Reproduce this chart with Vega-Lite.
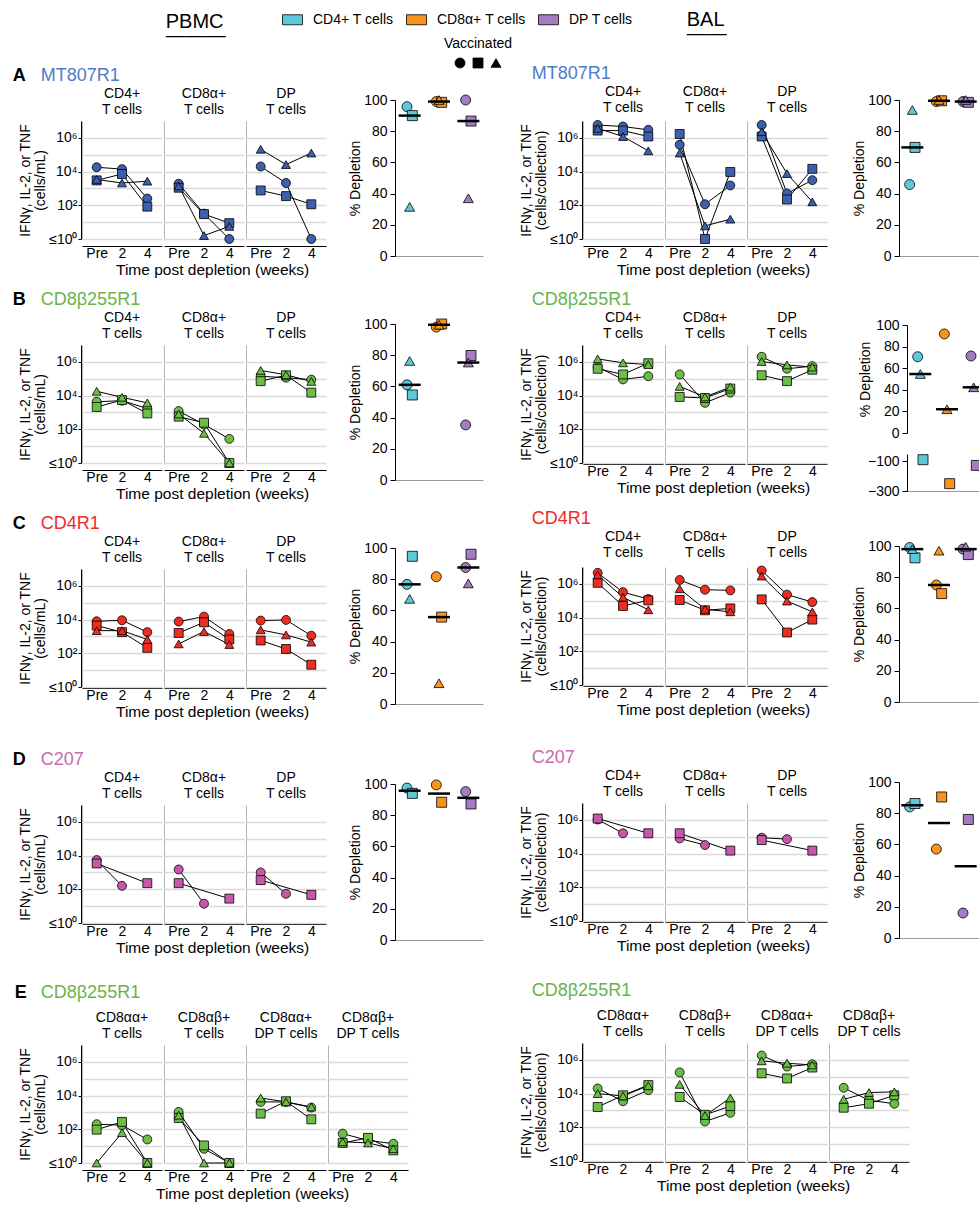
{
"$schema":"https://vega.github.io/schema/vega-lite/v6.json",
"padding":{"left":12,"top":9,"right":0,"bottom":0},
"background":"white",
"config":{
 "font":"Liberation Sans",
 "view":{"stroke":"#b5b5b5","strokeWidth":1,"strokeDash":[0,278,118,0]},
 "axis":{"labelFontSize":14,"titleFontSize":14,"titleFontWeight":"normal","labelColor":"black","titleColor":"black","domainColor":"black","tickColor":"black","grid":false,"gridColor":"#d9d9d9","gridWidth":1.5,"labelFont":"Liberation Sans","titleFont":"Liberation Sans","tickSize":3,"labelPadding":1,"titlePadding":1,"titleLineHeight":15},
 "axisX":{"ticks":false,"labelAngle":0,"labelPadding":0,"titlePadding":3},
 "header":{"labelFontSize":14,"labelExpr":"split(datum.label,'|')","labelPadding":3,"labelLineHeight":16,"labelColor":"black","labelFont":"Liberation Sans"},
 "title":{"fontSize":18,"fontWeight":"normal","anchor":"start","offset":5,"color":"black","font":"Liberation Sans"},
 "legend":{"labelFontSize":14,"titleFontSize":14,"titleFontWeight":"normal","labelColor":"black","titleColor":"black","labelFont":"Liberation Sans","titleFont":"Liberation Sans","symbolBaseFillColor":"black","symbolBaseStrokeColor":"black"},
 "scale":{"pointPadding":0.58},
 "range":{"category":["#5cc9d8","#f7931e","#a47cc2"],"symbol":["circle","square","triangle-up"]},
 "point":{"filled":true,"size":80,"stroke":"black","strokeWidth":0.8,"opacity":1},
 "line":{"color":"black","strokeWidth":1},
 "tick":{"color":"black","thickness":2.5,"opacity":1},
 "concat":{"spacing":7}
},
"datasets":{
"lines":[
{"row":"A","tis":"PBMC","cell":"CD4+|T cells","an":"1","time":"Pre","v":18000},
{"row":"A","tis":"PBMC","cell":"CD4+|T cells","an":"1","time":"2","v":14000},
{"row":"A","tis":"PBMC","cell":"CD4+|T cells","an":"1","time":"4","v":250},
{"row":"A","tis":"PBMC","cell":"CD4+|T cells","an":"2","time":"Pre","v":3000},
{"row":"A","tis":"PBMC","cell":"CD4+|T cells","an":"2","time":"2","v":7200},
{"row":"A","tis":"PBMC","cell":"CD4+|T cells","an":"2","time":"4","v":83},
{"row":"A","tis":"PBMC","cell":"CD4+|T cells","an":"3","time":"Pre","v":3400},
{"row":"A","tis":"PBMC","cell":"CD4+|T cells","an":"3","time":"2","v":2100},
{"row":"A","tis":"PBMC","cell":"CD4+|T cells","an":"3","time":"4","v":2700},
{"row":"A","tis":"PBMC","cell":"CD8α+|T cells","an":"1","time":"Pre","v":1900},
{"row":"A","tis":"PBMC","cell":"CD8α+|T cells","an":"1","time":"2","v":32},
{"row":"A","tis":"PBMC","cell":"CD8α+|T cells","an":"1","time":"4","v":1},
{"row":"A","tis":"PBMC","cell":"CD8α+|T cells","an":"2","time":"Pre","v":1100},
{"row":"A","tis":"PBMC","cell":"CD8α+|T cells","an":"2","time":"2","v":30},
{"row":"A","tis":"PBMC","cell":"CD8α+|T cells","an":"2","time":"4","v":8.7},
{"row":"A","tis":"PBMC","cell":"CD8α+|T cells","an":"3","time":"Pre","v":1400},
{"row":"A","tis":"PBMC","cell":"CD8α+|T cells","an":"3","time":"2","v":1.6},
{"row":"A","tis":"PBMC","cell":"CD8α+|T cells","an":"3","time":"4","v":5.6},
{"row":"A","tis":"PBMC","cell":"DP|T cells","an":"1","time":"Pre","v":20000},
{"row":"A","tis":"PBMC","cell":"DP|T cells","an":"1","time":"2","v":2100},
{"row":"A","tis":"PBMC","cell":"DP|T cells","an":"1","time":"4","v":1},
{"row":"A","tis":"PBMC","cell":"DP|T cells","an":"2","time":"Pre","v":760},
{"row":"A","tis":"PBMC","cell":"DP|T cells","an":"2","time":"2","v":350},
{"row":"A","tis":"PBMC","cell":"DP|T cells","an":"2","time":"4","v":115},
{"row":"A","tis":"PBMC","cell":"DP|T cells","an":"3","time":"Pre","v":210000},
{"row":"A","tis":"PBMC","cell":"DP|T cells","an":"3","time":"2","v":26000},
{"row":"A","tis":"PBMC","cell":"DP|T cells","an":"3","time":"4","v":126000},
{"row":"A","tis":"BAL","cell":"CD4+|T cells","an":"1","time":"Pre","v":5800000},
{"row":"A","tis":"BAL","cell":"CD4+|T cells","an":"1","time":"2","v":4700000},
{"row":"A","tis":"BAL","cell":"CD4+|T cells","an":"1","time":"4","v":3000000},
{"row":"A","tis":"BAL","cell":"CD4+|T cells","an":"2","time":"Pre","v":2700000},
{"row":"A","tis":"BAL","cell":"CD4+|T cells","an":"2","time":"2","v":2700000},
{"row":"A","tis":"BAL","cell":"CD4+|T cells","an":"2","time":"4","v":1200000},
{"row":"A","tis":"BAL","cell":"CD4+|T cells","an":"3","time":"Pre","v":3700000},
{"row":"A","tis":"BAL","cell":"CD4+|T cells","an":"3","time":"2","v":1200000},
{"row":"A","tis":"BAL","cell":"CD4+|T cells","an":"3","time":"4","v":170000},
{"row":"A","tis":"BAL","cell":"CD8α+|T cells","an":"1","time":"Pre","v":390000},
{"row":"A","tis":"BAL","cell":"CD8α+|T cells","an":"1","time":"2","v":115},
{"row":"A","tis":"BAL","cell":"CD8α+|T cells","an":"1","time":"4","v":1500},
{"row":"A","tis":"BAL","cell":"CD8α+|T cells","an":"2","time":"Pre","v":1700000},
{"row":"A","tis":"BAL","cell":"CD8α+|T cells","an":"2","time":"2","v":1},
{"row":"A","tis":"BAL","cell":"CD8α+|T cells","an":"2","time":"4","v":9500},
{"row":"A","tis":"BAL","cell":"CD8α+|T cells","an":"3","time":"Pre","v":126000},
{"row":"A","tis":"BAL","cell":"CD8α+|T cells","an":"3","time":"2","v":6},
{"row":"A","tis":"BAL","cell":"CD8α+|T cells","an":"3","time":"4","v":15},
{"row":"A","tis":"BAL","cell":"DP|T cells","an":"1","time":"Pre","v":5800000},
{"row":"A","tis":"BAL","cell":"DP|T cells","an":"1","time":"2","v":500},
{"row":"A","tis":"BAL","cell":"DP|T cells","an":"1","time":"4","v":3100},
{"row":"A","tis":"BAL","cell":"DP|T cells","an":"2","time":"Pre","v":1200000},
{"row":"A","tis":"BAL","cell":"DP|T cells","an":"2","time":"2","v":220},
{"row":"A","tis":"BAL","cell":"DP|T cells","an":"2","time":"4","v":14500},
{"row":"A","tis":"BAL","cell":"DP|T cells","an":"3","time":"Pre","v":2300000},
{"row":"A","tis":"BAL","cell":"DP|T cells","an":"3","time":"2","v":7600},
{"row":"A","tis":"BAL","cell":"DP|T cells","an":"3","time":"4","v":160},
{"row":"B","tis":"PBMC","cell":"CD4+|T cells","an":"1","time":"Pre","v":4300},
{"row":"B","tis":"PBMC","cell":"CD4+|T cells","an":"1","time":"2","v":5000},
{"row":"B","tis":"PBMC","cell":"CD4+|T cells","an":"1","time":"4","v":1700},
{"row":"B","tis":"PBMC","cell":"CD4+|T cells","an":"2","time":"Pre","v":2100},
{"row":"B","tis":"PBMC","cell":"CD4+|T cells","an":"2","time":"2","v":5400},
{"row":"B","tis":"PBMC","cell":"CD4+|T cells","an":"2","time":"4","v":870},
{"row":"B","tis":"PBMC","cell":"CD4+|T cells","an":"3","time":"Pre","v":18000},
{"row":"B","tis":"PBMC","cell":"CD4+|T cells","an":"3","time":"2","v":7900},
{"row":"B","tis":"PBMC","cell":"CD4+|T cells","an":"3","time":"4","v":3700},
{"row":"B","tis":"PBMC","cell":"CD8α+|T cells","an":"1","time":"Pre","v":1200},
{"row":"B","tis":"PBMC","cell":"CD8α+|T cells","an":"1","time":"2","v":195},
{"row":"B","tis":"PBMC","cell":"CD8α+|T cells","an":"1","time":"4","v":27},
{"row":"B","tis":"PBMC","cell":"CD8α+|T cells","an":"2","time":"Pre","v":560},
{"row":"B","tis":"PBMC","cell":"CD8α+|T cells","an":"2","time":"2","v":245},
{"row":"B","tis":"PBMC","cell":"CD8α+|T cells","an":"2","time":"4","v":1},
{"row":"B","tis":"PBMC","cell":"CD8α+|T cells","an":"3","time":"Pre","v":800},
{"row":"B","tis":"PBMC","cell":"CD8α+|T cells","an":"3","time":"2","v":58},
{"row":"B","tis":"PBMC","cell":"CD8α+|T cells","an":"3","time":"4","v":1},
{"row":"B","tis":"PBMC","cell":"DP|T cells","an":"1","time":"Pre","v":140000},
{"row":"B","tis":"PBMC","cell":"DP|T cells","an":"1","time":"2","v":115000},
{"row":"B","tis":"PBMC","cell":"DP|T cells","an":"1","time":"4","v":87000},
{"row":"B","tis":"PBMC","cell":"DP|T cells","an":"2","time":"Pre","v":72000},
{"row":"B","tis":"PBMC","cell":"DP|T cells","an":"2","time":"2","v":160000},
{"row":"B","tis":"PBMC","cell":"DP|T cells","an":"2","time":"4","v":15000},
{"row":"B","tis":"PBMC","cell":"DP|T cells","an":"3","time":"Pre","v":310000},
{"row":"B","tis":"PBMC","cell":"DP|T cells","an":"3","time":"2","v":170000},
{"row":"B","tis":"PBMC","cell":"DP|T cells","an":"3","time":"4","v":69000},
{"row":"B","tis":"BAL","cell":"CD4+|T cells","an":"1","time":"Pre","v":490000},
{"row":"B","tis":"BAL","cell":"CD4+|T cells","an":"1","time":"2","v":91000},
{"row":"B","tis":"BAL","cell":"CD4+|T cells","an":"1","time":"4","v":140000},
{"row":"B","tis":"BAL","cell":"CD4+|T cells","an":"2","time":"Pre","v":390000},
{"row":"B","tis":"BAL","cell":"CD4+|T cells","an":"2","time":"2","v":180000},
{"row":"B","tis":"BAL","cell":"CD4+|T cells","an":"2","time":"4","v":830000},
{"row":"B","tis":"BAL","cell":"CD4+|T cells","an":"3","time":"Pre","v":1500000},
{"row":"B","tis":"BAL","cell":"CD4+|T cells","an":"3","time":"2","v":870000},
{"row":"B","tis":"BAL","cell":"CD4+|T cells","an":"3","time":"4","v":690000},
{"row":"B","tis":"BAL","cell":"CD8α+|T cells","an":"1","time":"Pre","v":180000},
{"row":"B","tis":"BAL","cell":"CD8α+|T cells","an":"1","time":"2","v":3700},
{"row":"B","tis":"BAL","cell":"CD8α+|T cells","an":"1","time":"4","v":15000},
{"row":"B","tis":"BAL","cell":"CD8α+|T cells","an":"2","time":"Pre","v":8300},
{"row":"B","tis":"BAL","cell":"CD8α+|T cells","an":"2","time":"2","v":7200},
{"row":"B","tis":"BAL","cell":"CD8α+|T cells","an":"2","time":"4","v":26000},
{"row":"B","tis":"BAL","cell":"CD8α+|T cells","an":"3","time":"Pre","v":35000},
{"row":"B","tis":"BAL","cell":"CD8α+|T cells","an":"3","time":"2","v":8300},
{"row":"B","tis":"BAL","cell":"CD8α+|T cells","an":"3","time":"4","v":32000},
{"row":"B","tis":"BAL","cell":"DP|T cells","an":"1","time":"Pre","v":2000000},
{"row":"B","tis":"BAL","cell":"DP|T cells","an":"1","time":"2","v":390000},
{"row":"B","tis":"BAL","cell":"DP|T cells","an":"1","time":"4","v":560000},
{"row":"B","tis":"BAL","cell":"DP|T cells","an":"2","time":"Pre","v":160000},
{"row":"B","tis":"BAL","cell":"DP|T cells","an":"2","time":"2","v":72000},
{"row":"B","tis":"BAL","cell":"DP|T cells","an":"2","time":"4","v":340000},
{"row":"B","tis":"BAL","cell":"DP|T cells","an":"3","time":"Pre","v":1050000},
{"row":"B","tis":"BAL","cell":"DP|T cells","an":"3","time":"2","v":660000},
{"row":"B","tis":"BAL","cell":"DP|T cells","an":"3","time":"4","v":490000},
{"row":"C","tis":"PBMC","cell":"CD4+|T cells","an":"1","time":"Pre","v":7900},
{"row":"C","tis":"PBMC","cell":"CD4+|T cells","an":"1","time":"2","v":9100},
{"row":"C","tis":"PBMC","cell":"CD4+|T cells","an":"1","time":"4","v":1800},
{"row":"C","tis":"PBMC","cell":"CD4+|T cells","an":"2","time":"Pre","v":4400},
{"row":"C","tis":"PBMC","cell":"CD4+|T cells","an":"2","time":"2","v":1800},
{"row":"C","tis":"PBMC","cell":"CD4+|T cells","an":"2","time":"4","v":210},
{"row":"C","tis":"PBMC","cell":"CD4+|T cells","an":"3","time":"Pre","v":2200},
{"row":"C","tis":"PBMC","cell":"CD4+|T cells","an":"3","time":"2","v":2200},
{"row":"C","tis":"PBMC","cell":"CD4+|T cells","an":"3","time":"4","v":660},
{"row":"C","tis":"PBMC","cell":"CD8α+|T cells","an":"1","time":"Pre","v":7600},
{"row":"C","tis":"PBMC","cell":"CD8α+|T cells","an":"1","time":"2","v":15000},
{"row":"C","tis":"PBMC","cell":"CD8α+|T cells","an":"1","time":"4","v":1400},
{"row":"C","tis":"PBMC","cell":"CD8α+|T cells","an":"2","time":"Pre","v":1600},
{"row":"C","tis":"PBMC","cell":"CD8α+|T cells","an":"2","time":"2","v":6900},
{"row":"C","tis":"PBMC","cell":"CD8α+|T cells","an":"2","time":"4","v":660},
{"row":"C","tis":"PBMC","cell":"CD8α+|T cells","an":"3","time":"Pre","v":360},
{"row":"C","tis":"PBMC","cell":"CD8α+|T cells","an":"3","time":"2","v":1950},
{"row":"C","tis":"PBMC","cell":"CD8α+|T cells","an":"3","time":"4","v":330},
{"row":"C","tis":"PBMC","cell":"DP|T cells","an":"1","time":"Pre","v":8700},
{"row":"C","tis":"PBMC","cell":"DP|T cells","an":"1","time":"2","v":9500},
{"row":"C","tis":"PBMC","cell":"DP|T cells","an":"1","time":"4","v":1100},
{"row":"C","tis":"PBMC","cell":"DP|T cells","an":"2","time":"Pre","v":575},
{"row":"C","tis":"PBMC","cell":"DP|T cells","an":"2","time":"2","v":180},
{"row":"C","tis":"PBMC","cell":"DP|T cells","an":"2","time":"4","v":21},
{"row":"C","tis":"PBMC","cell":"DP|T cells","an":"3","time":"Pre","v":2450},
{"row":"C","tis":"PBMC","cell":"DP|T cells","an":"3","time":"2","v":1230},
{"row":"C","tis":"PBMC","cell":"DP|T cells","an":"3","time":"4","v":460},
{"row":"C","tis":"BAL","cell":"CD4+|T cells","an":"1","time":"Pre","v":4500000},
{"row":"C","tis":"BAL","cell":"CD4+|T cells","an":"1","time":"2","v":320000},
{"row":"C","tis":"BAL","cell":"CD4+|T cells","an":"1","time":"4","v":126000},
{"row":"C","tis":"BAL","cell":"CD4+|T cells","an":"2","time":"Pre","v":1150000},
{"row":"C","tis":"BAL","cell":"CD4+|T cells","an":"2","time":"2","v":49000},
{"row":"C","tis":"BAL","cell":"CD4+|T cells","an":"2","time":"4","v":105000},
{"row":"C","tis":"BAL","cell":"CD4+|T cells","an":"3","time":"Pre","v":3400000},
{"row":"C","tis":"BAL","cell":"CD4+|T cells","an":"3","time":"2","v":160000},
{"row":"C","tis":"BAL","cell":"CD4+|T cells","an":"3","time":"4","v":29000},
{"row":"C","tis":"BAL","cell":"CD8α+|T cells","an":"1","time":"Pre","v":1700000},
{"row":"C","tis":"BAL","cell":"CD8α+|T cells","an":"1","time":"2","v":450000},
{"row":"C","tis":"BAL","cell":"CD8α+|T cells","an":"1","time":"4","v":410000},
{"row":"C","tis":"BAL","cell":"CD8α+|T cells","an":"2","time":"Pre","v":110000},
{"row":"C","tis":"BAL","cell":"CD8α+|T cells","an":"2","time":"2","v":27000},
{"row":"C","tis":"BAL","cell":"CD8α+|T cells","an":"2","time":"4","v":35000},
{"row":"C","tis":"BAL","cell":"CD8α+|T cells","an":"3","time":"Pre","v":510000},
{"row":"C","tis":"BAL","cell":"CD8α+|T cells","an":"3","time":"2","v":31000},
{"row":"C","tis":"BAL","cell":"CD8α+|T cells","an":"3","time":"4","v":22000},
{"row":"C","tis":"BAL","cell":"DP|T cells","an":"1","time":"Pre","v":6200000},
{"row":"C","tis":"BAL","cell":"DP|T cells","an":"1","time":"2","v":230000},
{"row":"C","tis":"BAL","cell":"DP|T cells","an":"1","time":"4","v":83000},
{"row":"C","tis":"BAL","cell":"DP|T cells","an":"2","time":"Pre","v":120000},
{"row":"C","tis":"BAL","cell":"DP|T cells","an":"2","time":"2","v":1300},
{"row":"C","tis":"BAL","cell":"DP|T cells","an":"2","time":"4","v":7600},
{"row":"C","tis":"BAL","cell":"DP|T cells","an":"3","time":"Pre","v":2900000},
{"row":"C","tis":"BAL","cell":"DP|T cells","an":"3","time":"2","v":95000},
{"row":"C","tis":"BAL","cell":"DP|T cells","an":"3","time":"4","v":22000},
{"row":"D","tis":"PBMC","cell":"CD4+|T cells","an":"1","time":"Pre","v":5400},
{"row":"D","tis":"PBMC","cell":"CD4+|T cells","an":"1","time":"2","v":160},
{"row":"D","tis":"PBMC","cell":"CD4+|T cells","an":"2","time":"Pre","v":3400},
{"row":"D","tis":"PBMC","cell":"CD4+|T cells","an":"2","time":"4","v":230},
{"row":"D","tis":"PBMC","cell":"CD8α+|T cells","an":"1","time":"Pre","v":1500},
{"row":"D","tis":"PBMC","cell":"CD8α+|T cells","an":"1","time":"2","v":14},
{"row":"D","tis":"PBMC","cell":"CD8α+|T cells","an":"2","time":"Pre","v":230},
{"row":"D","tis":"PBMC","cell":"CD8α+|T cells","an":"2","time":"4","v":28},
{"row":"D","tis":"PBMC","cell":"DP|T cells","an":"1","time":"Pre","v":1000},
{"row":"D","tis":"PBMC","cell":"DP|T cells","an":"1","time":"2","v":54},
{"row":"D","tis":"PBMC","cell":"DP|T cells","an":"2","time":"Pre","v":350},
{"row":"D","tis":"PBMC","cell":"DP|T cells","an":"2","time":"4","v":47},
{"row":"D","tis":"BAL","cell":"CD4+|T cells","an":"1","time":"Pre","v":1050000},
{"row":"D","tis":"BAL","cell":"CD4+|T cells","an":"1","time":"2","v":160000},
{"row":"D","tis":"BAL","cell":"CD4+|T cells","an":"2","time":"Pre","v":1200000},
{"row":"D","tis":"BAL","cell":"CD4+|T cells","an":"2","time":"4","v":160000},
{"row":"D","tis":"BAL","cell":"CD8α+|T cells","an":"1","time":"Pre","v":79000},
{"row":"D","tis":"BAL","cell":"CD8α+|T cells","an":"1","time":"2","v":32000},
{"row":"D","tis":"BAL","cell":"CD8α+|T cells","an":"2","time":"Pre","v":160000},
{"row":"D","tis":"BAL","cell":"CD8α+|T cells","an":"2","time":"4","v":15000},
{"row":"D","tis":"BAL","cell":"DP|T cells","an":"1","time":"Pre","v":87000},
{"row":"D","tis":"BAL","cell":"DP|T cells","an":"1","time":"2","v":72000},
{"row":"D","tis":"BAL","cell":"DP|T cells","an":"2","time":"Pre","v":63000},
{"row":"D","tis":"BAL","cell":"DP|T cells","an":"2","time":"4","v":15000},
{"row":"E","tis":"PBMC","cell":"CD8αα+|T cells","an":"1","time":"Pre","v":200},
{"row":"E","tis":"PBMC","cell":"CD8αα+|T cells","an":"1","time":"2","v":175},
{"row":"E","tis":"PBMC","cell":"CD8αα+|T cells","an":"1","time":"4","v":25},
{"row":"E","tis":"PBMC","cell":"CD8αα+|T cells","an":"2","time":"Pre","v":95},
{"row":"E","tis":"PBMC","cell":"CD8αα+|T cells","an":"2","time":"2","v":275},
{"row":"E","tis":"PBMC","cell":"CD8αα+|T cells","an":"2","time":"4","v":1},
{"row":"E","tis":"PBMC","cell":"CD8αα+|T cells","an":"3","time":"Pre","v":1},
{"row":"E","tis":"PBMC","cell":"CD8αα+|T cells","an":"3","time":"2","v":63},
{"row":"E","tis":"PBMC","cell":"CD8αα+|T cells","an":"3","time":"4","v":1},
{"row":"E","tis":"PBMC","cell":"CD8αβ+|T cells","an":"1","time":"Pre","v":1070},
{"row":"E","tis":"PBMC","cell":"CD8αβ+|T cells","an":"1","time":"2","v":7},
{"row":"E","tis":"PBMC","cell":"CD8αβ+|T cells","an":"1","time":"4","v":1},
{"row":"E","tis":"PBMC","cell":"CD8αβ+|T cells","an":"2","time":"Pre","v":470},
{"row":"E","tis":"PBMC","cell":"CD8αβ+|T cells","an":"2","time":"2","v":11},
{"row":"E","tis":"PBMC","cell":"CD8αβ+|T cells","an":"2","time":"4","v":1},
{"row":"E","tis":"PBMC","cell":"CD8αβ+|T cells","an":"3","time":"Pre","v":680},
{"row":"E","tis":"PBMC","cell":"CD8αβ+|T cells","an":"3","time":"2","v":1},
{"row":"E","tis":"PBMC","cell":"CD8αβ+|T cells","an":"3","time":"4","v":1},
{"row":"E","tis":"PBMC","cell":"CD8αα+|DP T cells","an":"1","time":"Pre","v":4200},
{"row":"E","tis":"PBMC","cell":"CD8αα+|DP T cells","an":"1","time":"2","v":4200},
{"row":"E","tis":"PBMC","cell":"CD8αα+|DP T cells","an":"1","time":"4","v":1950},
{"row":"E","tis":"PBMC","cell":"CD8αα+|DP T cells","an":"2","time":"Pre","v":850},
{"row":"E","tis":"PBMC","cell":"CD8αα+|DP T cells","an":"2","time":"2","v":4600},
{"row":"E","tis":"PBMC","cell":"CD8αα+|DP T cells","an":"2","time":"4","v":390},
{"row":"E","tis":"PBMC","cell":"CD8αα+|DP T cells","an":"3","time":"Pre","v":7200},
{"row":"E","tis":"PBMC","cell":"CD8αα+|DP T cells","an":"3","time":"2","v":4200},
{"row":"E","tis":"PBMC","cell":"CD8αα+|DP T cells","an":"3","time":"4","v":2100},
{"row":"E","tis":"PBMC","cell":"CD8αβ+|DP T cells","an":"1","time":"Pre","v":55},
{"row":"E","tis":"PBMC","cell":"CD8αβ+|DP T cells","an":"1","time":"2","v":22},
{"row":"E","tis":"PBMC","cell":"CD8αβ+|DP T cells","an":"1","time":"4","v":14},
{"row":"E","tis":"PBMC","cell":"CD8αβ+|DP T cells","an":"2","time":"Pre","v":15.5},
{"row":"E","tis":"PBMC","cell":"CD8αβ+|DP T cells","an":"2","time":"2","v":31},
{"row":"E","tis":"PBMC","cell":"CD8αβ+|DP T cells","an":"2","time":"4","v":5.6},
{"row":"E","tis":"PBMC","cell":"CD8αβ+|DP T cells","an":"3","time":"Pre","v":18},
{"row":"E","tis":"PBMC","cell":"CD8αβ+|DP T cells","an":"3","time":"2","v":15.5},
{"row":"E","tis":"PBMC","cell":"CD8αβ+|DP T cells","an":"3","time":"4","v":7},
{"row":"E","tis":"BAL","cell":"CD8αα+|T cells","an":"1","time":"Pre","v":20000},
{"row":"E","tis":"BAL","cell":"CD8αα+|T cells","an":"1","time":"2","v":3500},
{"row":"E","tis":"BAL","cell":"CD8αα+|T cells","an":"1","time":"4","v":16000},
{"row":"E","tis":"BAL","cell":"CD8αα+|T cells","an":"2","time":"Pre","v":1600},
{"row":"E","tis":"BAL","cell":"CD8αα+|T cells","an":"2","time":"2","v":7900},
{"row":"E","tis":"BAL","cell":"CD8αα+|T cells","an":"2","time":"4","v":32000},
{"row":"E","tis":"BAL","cell":"CD8αα+|T cells","an":"3","time":"Pre","v":10000},
{"row":"E","tis":"BAL","cell":"CD8αα+|T cells","an":"3","time":"2","v":7200},
{"row":"E","tis":"BAL","cell":"CD8αα+|T cells","an":"3","time":"4","v":29000},
{"row":"E","tis":"BAL","cell":"CD8αβ+|T cells","an":"1","time":"Pre","v":180000},
{"row":"E","tis":"BAL","cell":"CD8αβ+|T cells","an":"1","time":"2","v":220},
{"row":"E","tis":"BAL","cell":"CD8αβ+|T cells","an":"1","time":"4","v":720},
{"row":"E","tis":"BAL","cell":"CD8αβ+|T cells","an":"2","time":"Pre","v":6300},
{"row":"E","tis":"BAL","cell":"CD8αβ+|T cells","an":"2","time":"2","v":550},
{"row":"E","tis":"BAL","cell":"CD8αβ+|T cells","an":"2","time":"4","v":1800},
{"row":"E","tis":"BAL","cell":"CD8αβ+|T cells","an":"3","time":"Pre","v":35000},
{"row":"E","tis":"BAL","cell":"CD8αβ+|T cells","an":"3","time":"2","v":500},
{"row":"E","tis":"BAL","cell":"CD8αβ+|T cells","an":"3","time":"4","v":5500},
{"row":"E","tis":"BAL","cell":"CD8αα+|DP T cells","an":"1","time":"Pre","v":1800000},
{"row":"E","tis":"BAL","cell":"CD8αα+|DP T cells","an":"1","time":"2","v":400000},
{"row":"E","tis":"BAL","cell":"CD8αα+|DP T cells","an":"1","time":"4","v":550000},
{"row":"E","tis":"BAL","cell":"CD8αα+|DP T cells","an":"2","time":"Pre","v":160000},
{"row":"E","tis":"BAL","cell":"CD8αα+|DP T cells","an":"2","time":"2","v":79000},
{"row":"E","tis":"BAL","cell":"CD8αα+|DP T cells","an":"2","time":"4","v":350000},
{"row":"E","tis":"BAL","cell":"CD8αα+|DP T cells","an":"3","time":"Pre","v":870000},
{"row":"E","tis":"BAL","cell":"CD8αα+|DP T cells","an":"3","time":"2","v":630000},
{"row":"E","tis":"BAL","cell":"CD8αα+|DP T cells","an":"3","time":"4","v":500000},
{"row":"E","tis":"BAL","cell":"CD8αβ+|DP T cells","an":"1","time":"Pre","v":22000},
{"row":"E","tis":"BAL","cell":"CD8αβ+|DP T cells","an":"1","time":"2","v":4000},
{"row":"E","tis":"BAL","cell":"CD8αβ+|DP T cells","an":"1","time":"4","v":2500},
{"row":"E","tis":"BAL","cell":"CD8αβ+|DP T cells","an":"2","time":"Pre","v":1450},
{"row":"E","tis":"BAL","cell":"CD8αβ+|DP T cells","an":"2","time":"2","v":2500},
{"row":"E","tis":"BAL","cell":"CD8αβ+|DP T cells","an":"2","time":"4","v":7900},
{"row":"E","tis":"BAL","cell":"CD8αβ+|DP T cells","an":"3","time":"Pre","v":4600},
{"row":"E","tis":"BAL","cell":"CD8αβ+|DP T cells","an":"3","time":"2","v":11500},
{"row":"E","tis":"BAL","cell":"CD8αβ+|DP T cells","an":"3","time":"4","v":12600}
],
"dep":[
{"row":"A","tis":"PBMC","cell":"CD4+ T cells","an":"1","v":95.7},
{"row":"A","tis":"PBMC","cell":"CD4+ T cells","an":"2","v":90},
{"row":"A","tis":"PBMC","cell":"CD4+ T cells","an":"3","v":31.5},
{"row":"A","tis":"PBMC","cell":"CD8α+ T cells","an":"1","v":99},
{"row":"A","tis":"PBMC","cell":"CD8α+ T cells","an":"2","v":98.5},
{"row":"A","tis":"PBMC","cell":"CD8α+ T cells","an":"3","v":100},
{"row":"A","tis":"PBMC","cell":"DP T cells","an":"1","v":100},
{"row":"A","tis":"PBMC","cell":"DP T cells","an":"2","v":86.5},
{"row":"A","tis":"PBMC","cell":"DP T cells","an":"3","v":37},
{"row":"A","tis":"BAL","cell":"CD4+ T cells","an":"1","v":45.8},
{"row":"A","tis":"BAL","cell":"CD4+ T cells","an":"2","v":69.6},
{"row":"A","tis":"BAL","cell":"CD4+ T cells","an":"3","v":93.6},
{"row":"A","tis":"BAL","cell":"CD8α+ T cells","an":"1","v":99},
{"row":"A","tis":"BAL","cell":"CD8α+ T cells","an":"2","v":99.5},
{"row":"A","tis":"BAL","cell":"CD8α+ T cells","an":"3","v":100},
{"row":"A","tis":"BAL","cell":"DP T cells","an":"1","v":99},
{"row":"A","tis":"BAL","cell":"DP T cells","an":"2","v":98.5},
{"row":"A","tis":"BAL","cell":"DP T cells","an":"3","v":100},
{"row":"B","tis":"PBMC","cell":"CD4+ T cells","an":"1","v":61},
{"row":"B","tis":"PBMC","cell":"CD4+ T cells","an":"2","v":54.5},
{"row":"B","tis":"PBMC","cell":"CD4+ T cells","an":"3","v":76.3},
{"row":"B","tis":"PBMC","cell":"CD8α+ T cells","an":"1","v":98},
{"row":"B","tis":"PBMC","cell":"CD8α+ T cells","an":"2","v":100},
{"row":"B","tis":"PBMC","cell":"CD8α+ T cells","an":"3","v":99.5},
{"row":"B","tis":"PBMC","cell":"DP T cells","an":"1","v":35.3},
{"row":"B","tis":"PBMC","cell":"DP T cells","an":"2","v":79.8},
{"row":"B","tis":"PBMC","cell":"DP T cells","an":"3","v":75.3},
{"row":"B","tis":"BAL","cell":"CD4+ T cells","an":"1","v":70.6},
{"row":"B","tis":"BAL","cell":"CD4+ T cells","an":"2","v":-91},
{"row":"B","tis":"BAL","cell":"CD4+ T cells","an":"3","v":54.6},
{"row":"B","tis":"BAL","cell":"CD8α+ T cells","an":"1","v":91.7},
{"row":"B","tis":"BAL","cell":"CD8α+ T cells","an":"2","v":-251},
{"row":"B","tis":"BAL","cell":"CD8α+ T cells","an":"3","v":22},
{"row":"B","tis":"BAL","cell":"DP T cells","an":"1","v":71.3},
{"row":"B","tis":"BAL","cell":"DP T cells","an":"2","v":-129},
{"row":"B","tis":"BAL","cell":"DP T cells","an":"3","v":42.3},
{"row":"C","tis":"PBMC","cell":"CD4+ T cells","an":"1","v":76.7},
{"row":"C","tis":"PBMC","cell":"CD4+ T cells","an":"2","v":94.7},
{"row":"C","tis":"PBMC","cell":"CD4+ T cells","an":"3","v":67.4},
{"row":"C","tis":"PBMC","cell":"CD8α+ T cells","an":"1","v":81.6},
{"row":"C","tis":"PBMC","cell":"CD8α+ T cells","an":"2","v":55.7},
{"row":"C","tis":"PBMC","cell":"CD8α+ T cells","an":"3","v":13.3},
{"row":"C","tis":"PBMC","cell":"DP T cells","an":"1","v":87.5},
{"row":"C","tis":"PBMC","cell":"DP T cells","an":"2","v":96},
{"row":"C","tis":"PBMC","cell":"DP T cells","an":"3","v":77.3},
{"row":"C","tis":"BAL","cell":"CD4+ T cells","an":"1","v":99},
{"row":"C","tis":"BAL","cell":"CD4+ T cells","an":"2","v":92.4},
{"row":"C","tis":"BAL","cell":"CD4+ T cells","an":"3","v":98},
{"row":"C","tis":"BAL","cell":"CD8α+ T cells","an":"1","v":75},
{"row":"C","tis":"BAL","cell":"CD8α+ T cells","an":"2","v":69.5},
{"row":"C","tis":"BAL","cell":"CD8α+ T cells","an":"3","v":97},
{"row":"C","tis":"BAL","cell":"DP T cells","an":"1","v":98},
{"row":"C","tis":"BAL","cell":"DP T cells","an":"2","v":94.5},
{"row":"C","tis":"BAL","cell":"DP T cells","an":"3","v":99.5},
{"row":"D","tis":"PBMC","cell":"CD4+ T cells","an":"1","v":97.4},
{"row":"D","tis":"PBMC","cell":"CD4+ T cells","an":"2","v":94},
{"row":"D","tis":"PBMC","cell":"CD8α+ T cells","an":"1","v":99.4},
{"row":"D","tis":"PBMC","cell":"CD8α+ T cells","an":"2","v":88.3},
{"row":"D","tis":"PBMC","cell":"DP T cells","an":"1","v":95.1},
{"row":"D","tis":"PBMC","cell":"DP T cells","an":"2","v":87.2},
{"row":"D","tis":"BAL","cell":"CD4+ T cells","an":"1","v":84},
{"row":"D","tis":"BAL","cell":"CD4+ T cells","an":"2","v":86.2},
{"row":"D","tis":"BAL","cell":"CD8α+ T cells","an":"1","v":57},
{"row":"D","tis":"BAL","cell":"CD8α+ T cells","an":"2","v":90.4},
{"row":"D","tis":"BAL","cell":"DP T cells","an":"1","v":16},
{"row":"D","tis":"BAL","cell":"DP T cells","an":"2","v":76}
]
},
"spacing":36,
"hconcat":[
{"title":{"text":"PBMC","subtitle":"———","fontSize":20,"subtitleFontSize":20,"subtitleFont":"Liberation Sans","subtitleColor":"black","subtitlePadding":-6,"anchor":"start","dx":153,"offset":21},
 "spacing":26,
 "vconcat":[
 {"spacing":12,"vconcat":[
 {"title":{"text":"A","orient":"left","anchor":"end","angle":0,"align":"right","baseline":"top","fontWeight":"bold","fontSize":18,"offset":-20},
  "hconcat":[{"title":{"text":"MT807R1","color":"#4d7ccb","dx":22,"offset":2},"columns":2,"align":"none","spacing":21,"concat":[
   {"data":{"name":"lines"},"transform":[{"filter":"datum.row=='A'&&datum.tis=='PBMC'"}],
    "title":{"text":"Time post depletion (weeks)","orient":"bottom","anchor":"start","frame":"group","dx":34,"fontSize":15.5,"offset":3},
    "facet":{"column":{"field":"cell","type":"nominal","sort":["CD4+|T cells","CD8α+|T cells","DP|T cells"],"title":null}},
    "spacing":0,
    "spec":{"width":80,"height":118,
     "encoding":{"x":{"field":"time","type":"ordinal","sort":["Pre","2","4"],"axis":{"title":null}},
      "y":{"field":"v","type":"quantitative","scale":{"type":"log","domain":[1,10000000]},"axis":{"title":["IFNγ, IL-2, or TNF","(cells/mL)"],"values":[1,10,100,1000,10000,100000,1000000],"labelExpr":"datum.value==1?'≤10⁰':datum.value==100?'10²':datum.value==10000?'10⁴':datum.value==1000000?'10⁶':''","grid":true,"tickOpacity":{"condition":{"test":"datum.value==10||datum.value==1000||datum.value==100000","value":0},"value":1}}}},
     "layer":[{"mark":"line","encoding":{"detail":{"field":"an"},"order":{"value":null}}},
      {"mark":{"type":"point"},"encoding":{"color":{"field":"row","type":"nominal","scale":{"domain":["A","B","C","D","E"],"range":["#3d5fae","#6cbd45","#ec2d24","#c658a8","#6cbd45"]},"legend":null},"shape":{"field":"an","type":"nominal","legend":{"orient":"none","legendX":362,"legendY":-84,"title":"Vaccinated","direction":"horizontal","labelExpr":"''","symbolFillColor":"black","symbolStrokeColor":"black","symbolSize":100,"labelOffset":0,"columnPadding":4,"titleAnchor":"middle"}}}}]}},
   {"data":{"name":"dep"},"transform":[{"filter":"datum.row=='A'&&datum.tis=='PBMC'"}],
    "width":88,"height":135,"view":{"stroke":null},
    "encoding":{"x":{"field":"cell","type":"nominal","scale":{"type":"point","padding":0.5},"axis":{"labels":false,"ticks":false,"title":null,"domainColor":"#9a9a9a"}},
     "y":{"field":"v","type":"quantitative","scale":{"domain":[0,100],"range":[135,-21]},"axis":{"values":[0,20,40,60,80,100],"title":"% Depletion","tickSize":5,"labelPadding":3}}},
    "layer":[{"mark":{"type":"point","size":100},"encoding":{"fill":{"field":"cell","type":"nominal","legend":{"orient":"none","legendX":200,"legendY":-112,"direction":"horizontal","title":null,"symbolType":"M-1,-0.5H1V0.5H-1Z","symbolSize":400,"symbolStrokeColor":"black","symbolStrokeWidth":1,"symbolOpacity":1,"labelOffset":10,"columnPadding":10}},"shape":{"field":"an","type":"nominal"},"xOffset":{"field":"an","type":"nominal","scale":{"type":"point","domain":["1","3","2"],"range":[-4,4]}}}},
     {"mark":{"type":"tick","size":22},"encoding":{"y":{"aggregate":"median","field":"v","type":"quantitative","title":"% Depletion"}}}]}
  ]}]},
 {"title":{"text":"B","orient":"left","anchor":"end","angle":0,"align":"right","baseline":"top","fontWeight":"bold","fontSize":18,"offset":-20},
  "hconcat":[{"title":{"text":"CD8β255R1","color":"#6ab34a","dx":22,"offset":2},"columns":2,"align":"none","spacing":21,"concat":[
   {"data":{"name":"lines"},"transform":[{"filter":"datum.row=='B'&&datum.tis=='PBMC'"}],
    "title":{"text":"Time post depletion (weeks)","orient":"bottom","anchor":"start","frame":"group","dx":34,"fontSize":15.5,"offset":3},
    "facet":{"column":{"field":"cell","type":"nominal","sort":["CD4+|T cells","CD8α+|T cells","DP|T cells"],"title":null}},
    "spacing":0,
    "spec":{"width":80,"height":118,
     "encoding":{"x":{"field":"time","type":"ordinal","sort":["Pre","2","4"],"axis":{"title":null}},
      "y":{"field":"v","type":"quantitative","scale":{"type":"log","domain":[1,10000000]},"axis":{"title":["IFNγ, IL-2, or TNF","(cells/mL)"],"values":[1,10,100,1000,10000,100000,1000000],"labelExpr":"datum.value==1?'≤10⁰':datum.value==100?'10²':datum.value==10000?'10⁴':datum.value==1000000?'10⁶':''","grid":true,"tickOpacity":{"condition":{"test":"datum.value==10||datum.value==1000||datum.value==100000","value":0},"value":1}}}},
     "layer":[{"mark":"line","encoding":{"detail":{"field":"an"},"order":{"value":null}}},
      {"mark":{"type":"point"},"encoding":{"color":{"field":"row","type":"nominal","legend":null},"shape":{"field":"an","type":"nominal"}}}]}},
   {"data":{"name":"dep"},"transform":[{"filter":"datum.row=='B'&&datum.tis=='PBMC'"}],
    "width":88,"height":135,"view":{"stroke":null},
    "encoding":{"x":{"field":"cell","type":"nominal","scale":{"type":"point","padding":0.5},"axis":{"labels":false,"ticks":false,"title":null,"domainColor":"#9a9a9a"}},
     "y":{"field":"v","type":"quantitative","scale":{"domain":[0,100],"range":[135,-21]},"axis":{"values":[0,20,40,60,80,100],"title":"% Depletion","tickSize":5,"labelPadding":3}}},
    "layer":[{"mark":{"type":"point","size":100},"encoding":{"fill":{"field":"cell","type":"nominal"},"shape":{"field":"an","type":"nominal"},"xOffset":{"field":"an","type":"nominal","scale":{"type":"point","domain":["1","3","2"],"range":[-4,4]}}}},
     {"mark":{"type":"tick","size":22},"encoding":{"y":{"aggregate":"median","field":"v","type":"quantitative","title":"% Depletion"}}}]}
  ]}]},
 {"title":{"text":"C","orient":"left","anchor":"end","angle":0,"align":"right","baseline":"top","fontWeight":"bold","fontSize":18,"offset":-20},
  "hconcat":[{"title":{"text":"CD4R1","color":"#ee2a2a","dx":22,"offset":2},"columns":2,"align":"none","spacing":21,"concat":[
   {"data":{"name":"lines"},"transform":[{"filter":"datum.row=='C'&&datum.tis=='PBMC'"}],
    "title":{"text":"Time post depletion (weeks)","orient":"bottom","anchor":"start","frame":"group","dx":34,"fontSize":15.5,"offset":3},
    "facet":{"column":{"field":"cell","type":"nominal","sort":["CD4+|T cells","CD8α+|T cells","DP|T cells"],"title":null}},
    "spacing":0,
    "spec":{"width":80,"height":118,
     "encoding":{"x":{"field":"time","type":"ordinal","sort":["Pre","2","4"],"axis":{"title":null}},
      "y":{"field":"v","type":"quantitative","scale":{"type":"log","domain":[1,10000000]},"axis":{"title":["IFNγ, IL-2, or TNF","(cells/mL)"],"values":[1,10,100,1000,10000,100000,1000000],"labelExpr":"datum.value==1?'≤10⁰':datum.value==100?'10²':datum.value==10000?'10⁴':datum.value==1000000?'10⁶':''","grid":true,"tickOpacity":{"condition":{"test":"datum.value==10||datum.value==1000||datum.value==100000","value":0},"value":1}}}},
     "layer":[{"mark":"line","encoding":{"detail":{"field":"an"},"order":{"value":null}}},
      {"mark":{"type":"point"},"encoding":{"color":{"field":"row","type":"nominal","legend":null},"shape":{"field":"an","type":"nominal"}}}]}},
   {"data":{"name":"dep"},"transform":[{"filter":"datum.row=='C'&&datum.tis=='PBMC'"}],
    "width":88,"height":135,"view":{"stroke":null},
    "encoding":{"x":{"field":"cell","type":"nominal","scale":{"type":"point","padding":0.5},"axis":{"labels":false,"ticks":false,"title":null,"domainColor":"#9a9a9a"}},
     "y":{"field":"v","type":"quantitative","scale":{"domain":[0,100],"range":[135,-21]},"axis":{"values":[0,20,40,60,80,100],"title":"% Depletion","tickSize":5,"labelPadding":3}}},
    "layer":[{"mark":{"type":"point","size":100},"encoding":{"fill":{"field":"cell","type":"nominal"},"shape":{"field":"an","type":"nominal"},"xOffset":{"field":"an","type":"nominal","scale":{"type":"point","domain":["1","3","2"],"range":[-4,4]}}}},
     {"mark":{"type":"tick","size":22},"encoding":{"y":{"aggregate":"median","field":"v","type":"quantitative","title":"% Depletion"}}}]}
  ]}]}
 ]},
 {"spacing":23,"vconcat":[
 {"title":{"text":"D","orient":"left","anchor":"end","angle":0,"align":"right","baseline":"top","fontWeight":"bold","fontSize":18,"offset":-20},
  "hconcat":[{"title":{"text":"C207","color":"#c96aad","dx":22,"offset":2},"columns":2,"align":"none","spacing":21,"concat":[
   {"data":{"name":"lines"},"transform":[{"filter":"datum.row=='D'&&datum.tis=='PBMC'"}],
    "title":{"text":"Time post depletion (weeks)","orient":"bottom","anchor":"start","frame":"group","dx":34,"fontSize":15.5,"offset":3},
    "facet":{"column":{"field":"cell","type":"nominal","sort":["CD4+|T cells","CD8α+|T cells","DP|T cells"],"title":null}},
    "spacing":0,
    "spec":{"width":80,"height":118,
     "encoding":{"x":{"field":"time","type":"ordinal","sort":["Pre","2","4"],"scale":{"domain":["Pre","2","4"]},"axis":{"title":null}},
      "y":{"field":"v","type":"quantitative","scale":{"type":"log","domain":[1,10000000]},"axis":{"title":["IFNγ, IL-2, or TNF","(cells/mL)"],"values":[1,10,100,1000,10000,100000,1000000],"labelExpr":"datum.value==1?'≤10⁰':datum.value==100?'10²':datum.value==10000?'10⁴':datum.value==1000000?'10⁶':''","grid":true,"tickOpacity":{"condition":{"test":"datum.value==10||datum.value==1000||datum.value==100000","value":0},"value":1}}}},
     "layer":[{"mark":"line","encoding":{"detail":{"field":"an"},"order":{"value":null}}},
      {"mark":{"type":"point"},"encoding":{"color":{"field":"row","type":"nominal","legend":null},"shape":{"field":"an","type":"nominal"}}}]}},
   {"data":{"name":"dep"},"transform":[{"filter":"datum.row=='D'&&datum.tis=='PBMC'"}],
    "width":88,"height":135,"view":{"stroke":null},
    "encoding":{"x":{"field":"cell","type":"nominal","scale":{"type":"point","padding":0.5},"axis":{"labels":false,"ticks":false,"title":null,"domainColor":"#9a9a9a"}},
     "y":{"field":"v","type":"quantitative","scale":{"domain":[0,100],"range":[135,-21]},"axis":{"values":[0,20,40,60,80,100],"title":"% Depletion","tickSize":5,"labelPadding":3}}},
    "layer":[{"mark":{"type":"point","size":100},"encoding":{"fill":{"field":"cell","type":"nominal"},"shape":{"field":"an","type":"nominal"},"xOffset":{"field":"an","type":"nominal","scale":{"type":"point","domain":["1","3","2"],"range":[-4,4]}}}},
     {"mark":{"type":"tick","size":22},"encoding":{"y":{"aggregate":"median","field":"v","type":"quantitative","title":"% Depletion"}}}]}
  ]}]},
 {"title":{"text":"E","orient":"left","anchor":"end","angle":0,"align":"right","baseline":"top","fontWeight":"bold","fontSize":18,"offset":-20},
  "hconcat":[{"title":{"text":"CD8β255R1","color":"#6ab34a","dx":22,"offset":9},"columns":1,"align":"none","concat":[
   {"data":{"name":"lines"},"transform":[{"filter":"datum.row=='E'&&datum.tis=='PBMC'"}],
    "title":{"text":"Time post depletion (weeks)","orient":"bottom","anchor":"start","frame":"group","dx":74,"fontSize":15.5,"offset":3},
    "facet":{"column":{"field":"cell","type":"nominal","sort":["CD8αα+|T cells","CD8αβ+|T cells","CD8αα+|DP T cells","CD8αβ+|DP T cells"],"title":null}},
    "spacing":0,
    "spec":{"width":80,"height":118,
     "encoding":{"x":{"field":"time","type":"ordinal","sort":["Pre","2","4"],"axis":{"title":null}},
      "y":{"field":"v","type":"quantitative","scale":{"type":"log","domain":[1,10000000]},"axis":{"title":["IFNγ, IL-2, or TNF","(cells/mL)"],"values":[1,10,100,1000,10000,100000,1000000],"labelExpr":"datum.value==1?'≤10⁰':datum.value==100?'10²':datum.value==10000?'10⁴':datum.value==1000000?'10⁶':''","grid":true,"tickOpacity":{"condition":{"test":"datum.value==10||datum.value==1000||datum.value==100000","value":0},"value":1}}}},
     "layer":[{"mark":"line","encoding":{"detail":{"field":"an"},"order":{"value":null}}},
      {"mark":{"type":"point"},"encoding":{"color":{"field":"row","type":"nominal","legend":null},"shape":{"field":"an","type":"nominal"}}}]}}
  ]}]}
 ]}
 ]},
{"title":{"text":"BAL","subtitle":"——","fontSize":20,"subtitleFontSize":20,"subtitleFont":"Liberation Sans","subtitleColor":"black","subtitlePadding":-6,"anchor":"start","dx":167,"offset":21},
 "spacing":26,
 "vconcat":[
 {"spacing":12,"vconcat":[
 {"title":{"text":"MT807R1","color":"#4d7ccb","dx":12,"offset":2},"columns":2,"align":"none","spacing":24,"concat":[
   {"data":{"name":"lines"},"transform":[{"filter":"datum.row=='A'&&datum.tis=='BAL'"}],
    "title":{"text":"Time post depletion (weeks)","orient":"bottom","anchor":"start","frame":"group","dx":34,"fontSize":15.5,"offset":3},
    "facet":{"column":{"field":"cell","type":"nominal","sort":["CD4+|T cells","CD8α+|T cells","DP|T cells"],"title":null}},
    "spacing":0,
    "spec":{"width":80,"height":118,
     "encoding":{"x":{"field":"time","type":"ordinal","sort":["Pre","2","4"],"axis":{"title":null}},
      "y":{"field":"v","type":"quantitative","scale":{"type":"log","domain":[1,10000000]},"axis":{"title":["IFNγ, IL-2, or TNF","(cells/collection)"],"values":[1,10,100,1000,10000,100000,1000000],"labelExpr":"datum.value==1?'≤10⁰':datum.value==100?'10²':datum.value==10000?'10⁴':datum.value==1000000?'10⁶':''","grid":true,"tickOpacity":{"condition":{"test":"datum.value==10||datum.value==1000||datum.value==100000","value":0},"value":1}}}},
     "layer":[{"mark":"line","encoding":{"detail":{"field":"an"},"order":{"value":null}}},
      {"mark":{"type":"point"},"encoding":{"color":{"field":"row","type":"nominal","legend":null},"shape":{"field":"an","type":"nominal"}}}]}},
   {"data":{"name":"dep"},"transform":[{"filter":"datum.row=='A'&&datum.tis=='BAL'"}],
    "width":80,"height":135,"view":{"stroke":null},
    "encoding":{"x":{"field":"cell","type":"nominal","scale":{"type":"point","padding":0.5},"axis":{"labels":false,"ticks":false,"title":null,"domainColor":"#9a9a9a"}},
     "y":{"field":"v","type":"quantitative","scale":{"domain":[0,100],"range":[135,-21]},"axis":{"values":[0,20,40,60,80,100],"title":"% Depletion","tickSize":5,"labelPadding":3}}},
    "layer":[{"mark":{"type":"point","size":100},"encoding":{"fill":{"field":"cell","type":"nominal"},"shape":{"field":"an","type":"nominal"},"xOffset":{"field":"an","type":"nominal","scale":{"type":"point","domain":["1","3","2"],"range":[-4,4]}}}},
     {"mark":{"type":"tick","size":22},"encoding":{"y":{"aggregate":"median","field":"v","type":"quantitative","title":"% Depletion"}}}]}
 ]},
 {"title":{"text":"CD8β255R1","color":"#6ab34a","dx":12,"offset":2},"columns":2,"align":"none","spacing":24,"concat":[
   {"data":{"name":"lines"},"transform":[{"filter":"datum.row=='B'&&datum.tis=='BAL'"}],
    "title":{"text":"Time post depletion (weeks)","orient":"bottom","anchor":"start","frame":"group","dx":34,"fontSize":15.5,"offset":3},
    "facet":{"column":{"field":"cell","type":"nominal","sort":["CD4+|T cells","CD8α+|T cells","DP|T cells"],"title":null}},
    "spacing":0,
    "spec":{"width":80,"height":118,
     "encoding":{"x":{"field":"time","type":"ordinal","sort":["Pre","2","4"],"axis":{"title":null}},
      "y":{"field":"v","type":"quantitative","scale":{"type":"log","domain":[1,10000000]},"axis":{"title":["IFNγ, IL-2, or TNF","(cells/collection)"],"values":[1,10,100,1000,10000,100000,1000000],"labelExpr":"datum.value==1?'≤10⁰':datum.value==100?'10²':datum.value==10000?'10⁴':datum.value==1000000?'10⁶':''","grid":true,"tickOpacity":{"condition":{"test":"datum.value==10||datum.value==1000||datum.value==100000","value":0},"value":1}}}},
     "layer":[{"mark":"line","encoding":{"detail":{"field":"an"},"order":{"value":null}}},
      {"mark":{"type":"point"},"encoding":{"color":{"field":"row","type":"nominal","legend":null},"shape":{"field":"an","type":"nominal"}}}]}},
   {"data":{"name":"dep"},"transform":[{"filter":"datum.row=='B'&&datum.tis=='BAL'"}],
    "spacing":0,
    "vconcat":[
     {"width":80,"height":81,"view":{"stroke":null},
      "encoding":{"x":{"field":"cell","type":"nominal","scale":{"type":"point","padding":0.5},"axis":null},
       "y":{"field":"v","type":"quantitative","scale":{"domain":[0,100],"range":[88,-20]},"axis":{"values":[0,20,40,60,80,100],"title":"% Depletion","minExtent":34,"tickSize":5,"labelPadding":3}}},
      "layer":[{"transform":[{"filter":"datum.v>=0"}],"mark":{"type":"point","size":100},"encoding":{"fill":{"field":"cell","type":"nominal"},"shape":{"field":"an","type":"nominal"},"xOffset":{"field":"an","type":"nominal","scale":{"type":"point","domain":["1","3","2"],"range":[-4,4]}}}},
       {"mark":{"type":"tick","size":22},"encoding":{"y":{"aggregate":"median","field":"v","type":"quantitative","title":"% Depletion"}}}]},
     {"width":80,"height":37,"view":{"stroke":null},"transform":[{"filter":"datum.v<0"}],
      "mark":{"type":"point","size":100},
      "encoding":{"x":{"field":"cell","type":"nominal","scale":{"type":"point","padding":0.5},"axis":{"labels":false,"ticks":false,"title":null,"domainColor":"#9a9a9a"}},
       "y":{"field":"v","type":"quantitative","scale":{"domain":[-300,-53]},"axis":{"values":[-100,-300],"title":" ","minExtent":34,"tickSize":5,"labelPadding":3}},
       "fill":{"field":"cell","type":"nominal"},"shape":{"field":"an","type":"nominal"},"xOffset":{"field":"an","type":"nominal","scale":{"type":"point","domain":["1","3","2"],"range":[-4,4]}}}}
    ]}
 ]},
 {"title":{"text":"CD4R1","color":"#ee2a2a","dx":12,"offset":2},"columns":2,"align":"none","spacing":24,"concat":[
   {"data":{"name":"lines"},"transform":[{"filter":"datum.row=='C'&&datum.tis=='BAL'"}],
    "title":{"text":"Time post depletion (weeks)","orient":"bottom","anchor":"start","frame":"group","dx":34,"fontSize":15.5,"offset":3},
    "facet":{"column":{"field":"cell","type":"nominal","sort":["CD4+|T cells","CD8α+|T cells","DP|T cells"],"title":null}},
    "spacing":0,
    "spec":{"width":80,"height":118,
     "encoding":{"x":{"field":"time","type":"ordinal","sort":["Pre","2","4"],"axis":{"title":null}},
      "y":{"field":"v","type":"quantitative","scale":{"type":"log","domain":[1,10000000]},"axis":{"title":["IFNγ, IL-2, or TNF","(cells/collection)"],"values":[1,10,100,1000,10000,100000,1000000],"labelExpr":"datum.value==1?'≤10⁰':datum.value==100?'10²':datum.value==10000?'10⁴':datum.value==1000000?'10⁶':''","grid":true,"tickOpacity":{"condition":{"test":"datum.value==10||datum.value==1000||datum.value==100000","value":0},"value":1}}}},
     "layer":[{"mark":"line","encoding":{"detail":{"field":"an"},"order":{"value":null}}},
      {"mark":{"type":"point"},"encoding":{"color":{"field":"row","type":"nominal","legend":null},"shape":{"field":"an","type":"nominal"}}}]}},
   {"data":{"name":"dep"},"transform":[{"filter":"datum.row=='C'&&datum.tis=='BAL'"}],
    "width":80,"height":135,"view":{"stroke":null},
    "encoding":{"x":{"field":"cell","type":"nominal","scale":{"type":"point","padding":0.5},"axis":{"labels":false,"ticks":false,"title":null,"domainColor":"#9a9a9a"}},
     "y":{"field":"v","type":"quantitative","scale":{"domain":[0,100],"range":[135,-21]},"axis":{"values":[0,20,40,60,80,100],"title":"% Depletion","tickSize":5,"labelPadding":3}}},
    "layer":[{"mark":{"type":"point","size":100},"encoding":{"fill":{"field":"cell","type":"nominal"},"shape":{"field":"an","type":"nominal"},"xOffset":{"field":"an","type":"nominal","scale":{"type":"point","domain":["1","3","2"],"range":[-4,4]}}}},
     {"mark":{"type":"tick","size":22},"encoding":{"y":{"aggregate":"median","field":"v","type":"quantitative","title":"% Depletion"}}}]}
 ]}
 ]},
 {"spacing":23,"vconcat":[
 {"title":{"text":"C207","color":"#c96aad","dx":12,"offset":2},"columns":2,"align":"none","spacing":24,"concat":[
   {"data":{"name":"lines"},"transform":[{"filter":"datum.row=='D'&&datum.tis=='BAL'"}],
    "title":{"text":"Time post depletion (weeks)","orient":"bottom","anchor":"start","frame":"group","dx":34,"fontSize":15.5,"offset":3},
    "facet":{"column":{"field":"cell","type":"nominal","sort":["CD4+|T cells","CD8α+|T cells","DP|T cells"],"title":null}},
    "spacing":0,
    "spec":{"width":80,"height":118,
     "encoding":{"x":{"field":"time","type":"ordinal","sort":["Pre","2","4"],"scale":{"domain":["Pre","2","4"]},"axis":{"title":null}},
      "y":{"field":"v","type":"quantitative","scale":{"type":"log","domain":[1,10000000]},"axis":{"title":["IFNγ, IL-2, or TNF","(cells/collection)"],"values":[1,10,100,1000,10000,100000,1000000],"labelExpr":"datum.value==1?'≤10⁰':datum.value==100?'10²':datum.value==10000?'10⁴':datum.value==1000000?'10⁶':''","grid":true,"tickOpacity":{"condition":{"test":"datum.value==10||datum.value==1000||datum.value==100000","value":0},"value":1}}}},
     "layer":[{"mark":"line","encoding":{"detail":{"field":"an"},"order":{"value":null}}},
      {"mark":{"type":"point"},"encoding":{"color":{"field":"row","type":"nominal","legend":null},"shape":{"field":"an","type":"nominal"}}}]}},
   {"data":{"name":"dep"},"transform":[{"filter":"datum.row=='D'&&datum.tis=='BAL'"}],
    "width":80,"height":135,"view":{"stroke":null},
    "encoding":{"x":{"field":"cell","type":"nominal","scale":{"type":"point","padding":0.5},"axis":{"labels":false,"ticks":false,"title":null,"domainColor":"#9a9a9a"}},
     "y":{"field":"v","type":"quantitative","scale":{"domain":[0,100],"range":[135,-21]},"axis":{"values":[0,20,40,60,80,100],"title":"% Depletion","tickSize":5,"labelPadding":3}}},
    "layer":[{"mark":{"type":"point","size":100},"encoding":{"fill":{"field":"cell","type":"nominal"},"shape":{"field":"an","type":"nominal"},"xOffset":{"field":"an","type":"nominal","scale":{"type":"point","domain":["1","3","2"],"range":[-4,4]}}}},
     {"mark":{"type":"tick","size":22},"encoding":{"y":{"aggregate":"median","field":"v","type":"quantitative","title":"% Depletion"}}}]}
 ]},
 {"title":{"text":"CD8β255R1","color":"#6ab34a","dx":12,"offset":9},"columns":1,"align":"none","concat":[
   {"data":{"name":"lines"},"transform":[{"filter":"datum.row=='E'&&datum.tis=='BAL'"}],
    "title":{"text":"Time post depletion (weeks)","orient":"bottom","anchor":"start","frame":"group","dx":74,"fontSize":15.5,"offset":3},
    "facet":{"column":{"field":"cell","type":"nominal","sort":["CD8αα+|T cells","CD8αβ+|T cells","CD8αα+|DP T cells","CD8αβ+|DP T cells"],"title":null}},
    "spacing":0,
    "spec":{"width":80,"height":118,
     "encoding":{"x":{"field":"time","type":"ordinal","sort":["Pre","2","4"],"axis":{"title":null}},
      "y":{"field":"v","type":"quantitative","scale":{"type":"log","domain":[1,10000000]},"axis":{"title":["IFNγ, IL-2, or TNF","(cells/collection)"],"values":[1,10,100,1000,10000,100000,1000000],"labelExpr":"datum.value==1?'≤10⁰':datum.value==100?'10²':datum.value==10000?'10⁴':datum.value==1000000?'10⁶':''","grid":true,"tickOpacity":{"condition":{"test":"datum.value==10||datum.value==1000||datum.value==100000","value":0},"value":1}}}},
     "layer":[{"mark":"line","encoding":{"detail":{"field":"an"},"order":{"value":null}}},
      {"mark":{"type":"point"},"encoding":{"color":{"field":"row","type":"nominal","legend":null},"shape":{"field":"an","type":"nominal"}}}]}}
 ]}
 ]}
 ]}
]
}
